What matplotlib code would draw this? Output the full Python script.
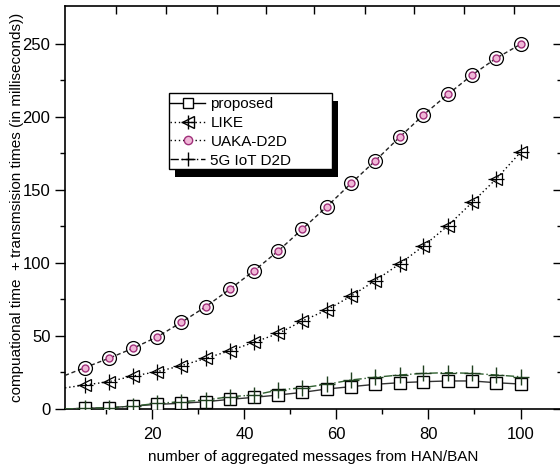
import matplotlib
matplotlib.use("Agg")
import matplotlib.pyplot as plt
from matplotlib.lines import Line2D
from matplotlib.patches import Rectangle
from matplotlib.transforms import IdentityTransform
from matplotlib.legend_handler import HandlerTuple

plt.rcParams['font.family'] = ['Liberation Sans', 'DejaVu Sans']

# marker positions (number of aggregated messages)
x_msgs = [5.3, 10.5, 15.8, 21.1, 26.3, 31.6, 36.8, 42.1, 47.4, 52.6,
          57.9, 63.2, 68.4, 73.7, 78.9, 84.2, 89.5, 94.7, 100]
x_start = 1.0

proposed = [0.5, 0.9, 2.0, 3.2, 3.9, 5.0, 6.6, 8.0, 9.6, 11.4,
            13.7, 15.3, 16.9, 18.0, 18.7, 19.2, 19.2, 18.0, 17.1]
like = [16.4, 18.7, 22.6, 25.6, 29.7, 34.7, 39.9, 45.7, 51.8, 60.3,
        67.8, 77.4, 87.9, 99.3, 111.6, 125.5, 141.5, 157.5, 175.8]
uaka = [28.3, 34.7, 41.6, 49.5, 59.4, 70.1, 82.0, 94.7, 108.4, 123.3,
        138.6, 154.6, 169.9, 186.1, 201.4, 215.5, 228.8, 240.2, 249.8]
g5_iot = [0.5, 0.9, 2.0, 3.9, 5.0, 6.2, 8.4, 9.6, 13.0, 14.6,
          16.9, 19.9, 21.7, 23.3, 24.4, 24.9, 24.4, 23.3, 22.1]
start_vals = {'proposed': 0.0, 'LIKE': 14.5, 'UAKA-D2D': 23.0, '5G IoT D2D': 0.0}

labels = ['proposed', 'LIKE', 'UAKA-D2D', '5G IoT D2D']

W, H = 560, 468
fig = plt.figure(figsize=(W / 100, H / 100), dpi=100)
ax = fig.add_axes([65/W, 59/H, 496/W, 403/H])

xs = [x_start] + x_msgs
def full(name, vals):
    return [start_vals[name]] + vals

green = '#2f5f2f'
# proposed
ax.plot(xs, full('proposed', proposed), color='#333333', lw=1.0, ls='-', zorder=3)
ax.plot(x_msgs, proposed, ls='none', marker='s', ms=8, mfc='white', mec='black', mew=1.0, zorder=4)
# 5G IoT D2D
ax.plot(xs, full('5G IoT D2D', g5_iot), color=green, lw=1.0, ls=(0, (6, 2, 1, 2)), zorder=3)
ax.plot(x_msgs, g5_iot, ls='none', marker='+', ms=12, mec='#1f3f1f', mew=1.0, zorder=4)
# LIKE
ax.plot(xs, full('LIKE', like), color='black', lw=1.0, ls=(0, (1, 2)), zorder=3)
ax.plot(x_msgs, like, ls='none', marker='<', ms=9, mfc='none', mec='black', mew=0.9, zorder=4)
ax.plot(x_msgs, like, ls='none', marker='+', ms=11, mec='black', mew=0.9, zorder=4)
# UAKA-D2D
ax.plot(xs, full('UAKA-D2D', uaka), color='#222222', lw=1.0, ls=(0, (3, 2)), zorder=3)
ax.plot(x_msgs, uaka, ls='none', marker='o', ms=10, mfc='none', mec='black', mew=0.9, zorder=4)
ax.plot(x_msgs, uaka, ls='none', marker='o', ms=5, mfc='#f0b8d8', mec='#a0307a', mew=1.0, zorder=5)

ax.set_xlim(1.0, 108.8)
ax.set_ylim(0, 276)

ax.set_xticks([20, 40, 60, 80, 100])
ax.set_xticks([10, 30, 50, 70, 90], minor=True)
ax.set_yticks([0, 50, 100, 150, 200, 250])
ax.set_yticks([25, 75, 125, 175, 225], minor=True)
ax.tick_params(axis='both', which='major', direction='out', length=7, width=1, labelsize=12)
ax.tick_params(axis='both', which='minor', direction='out', length=3.5, width=1)
ax.tick_params(axis='x', pad=6)

for s in ['top', 'right']:
    ax.spines[s].set_visible(False)
ax.spines['left'].set_linewidth(1.2)
ax.spines['bottom'].set_linewidth(1.2)

top = ax.secondary_xaxis('top')
top.set_xticks([12.0, 23.0, 34.1, 44.6, 55.2, 66.1, 76.9, 87.8, 98.5])
top.tick_params(direction='in', length=6, width=1, labeltop=False)
top.spines['top'].set_linewidth(1.2)

right = ax.secondary_yaxis('right')
right.set_yticks([0, 50, 100, 150, 200, 250])
right.set_yticks([25, 75, 125, 175, 225], minor=True)
right.tick_params(which='major', direction='in', length=6, width=1, labelright=False)
right.tick_params(which='minor', direction='in', length=3, width=1)
right.spines['right'].set_visible(False)

ax.set_xlabel('number of aggregated messages from HAN/BAN', fontsize=11, labelpad=6)
ax.set_ylabel('compuational time  + transmsision times (in milliseconds))', fontsize=11, labelpad=-1)

# legend: frame + shadow drawn in pixel space, entries via matplotlib legend
lx0, ly0, lx1, ly1 = 169, 93, 332, 169   # image pixels (top-left origin)
ax.add_patch(Rectangle((lx0 + 6, H - ly1 - 8), lx1 - lx0, ly1 - ly0, transform=IdentityTransform(),
                       facecolor='black', edgecolor='none', zorder=8, clip_on=False))
ax.add_patch(Rectangle((lx0, H - ly1), lx1 - lx0, ly1 - ly0, transform=IdentityTransform(),
                       facecolor='white', edgecolor='black', lw=1.0, zorder=9, clip_on=False))

h_prop = Line2D([], [], color='black', lw=1.0, marker='s', ms=7, mfc='white', mec='black')
h_like = (Line2D([], [], color='black', lw=1.0, ls=(0, (1, 2)), marker='<', ms=8, mfc='none', mec='black'),
          Line2D([], [], ls='none', marker='+', ms=10, mec='black'))
h_uaka = Line2D([], [], color='black', lw=1.0, ls=(0, (1, 2)), marker='o', ms=6, mfc='#f0b8d8', mec='#a0307a')
h_5g = Line2D([], [], color='black', lw=1.0, ls=(0, (6, 2, 1, 2)), marker='+', ms=10, mec='black')
leg = ax.legend([h_prop, h_like, h_uaka, h_5g], labels,
                handler_map={tuple: HandlerTuple(ndivide=1)},
                loc='upper left',
                bbox_to_anchor=(lx0 + 1, H - ly0 - 4), bbox_transform=IdentityTransform(),
                frameon=False, fontsize=11, handlelength=2.3, handletextpad=0.35,
                borderpad=0.0, labelspacing=0.32, borderaxespad=0)
leg.set_zorder(10)

fig.savefig('out.png', dpi=100)
